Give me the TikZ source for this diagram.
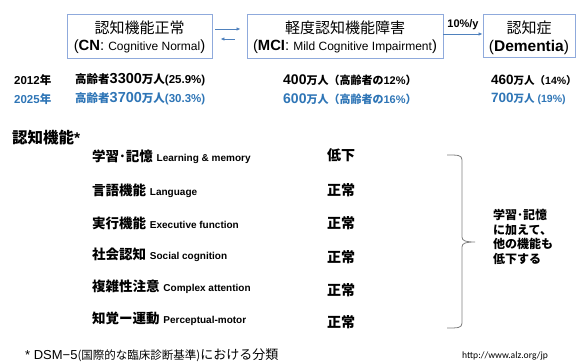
\documentclass[tikz,border=0pt]{standalone}
\usepackage{fontspec}
\setmainfont{Liberation Sans}
\newfontfamily\jp{Noto Sans CJK JP}
\newfontfamily\urlfont{Carlito}
\usetikzlibrary{arrows.meta}
\definecolor{boxc}{HTML}{8FAADC}
\definecolor{arrc}{HTML}{4F81BD}
\definecolor{bluet}{HTML}{2E75B6}
\definecolor{brc}{HTML}{7F7F7F}
\newcommand{\J}[1]{{\jp #1}}
\newcommand{\fs}[1]{\fontsize{#1}{#1}\selectfont}
\begin{document}
\begin{tikzpicture}[x=1pt,y=-1pt,
  box/.style={draw=boxc,line width=0.9pt},
  lbl/.style={inner sep=0pt,anchor=center},
  lt/.style={inner sep=0pt,anchor=west},
  arr/.style={draw=arrc,line width=0.9pt,-{Latex[length=4pt,width=3.5pt]}},
  br/.style={draw=brc,line width=0.8pt}]
\useasboundingbox (0,0) rectangle (576,363);
% boxes
\node[box,minimum width=145pt,minimum height=44pt,inner sep=0pt] (b1) at (139.5,36) {};
\node[box,minimum width=196pt,minimum height=44pt,inner sep=0pt] (b2) at (345,36) {};
\node[box,minimum width=92pt,minimum height=43pt,inner sep=0pt] (b3) at (529,35.5) {};
\node[lbl] (b1a) at (139.5,28) {\fs{15}\J{認知機能正常}};
\node[lbl] (b1b) at (139.5,47) {\fs{14.8}(\textbf{CN}: {\fs{12}Cognitive Normal})};
\node[lbl] (b2a) at (345,28) {\fs{15}\J{軽度認知機能障害}};
\node[lbl] (b2b) at (345,47) {\fs{14.8}(\textbf{MCI}: {\fs{12}Mild Cognitive Impairment})};
\node[lbl] (b3a) at (529,28) {\fs{15}\J{認知症}};
\node[lbl] (b3b) at (529,47) {\fs{15.5}(\textbf{Dementia})};
% arrows
\draw[arr] ([xshift=3pt,yshift=7pt]b1.east) -- ([xshift=-6pt,yshift=7pt]b2.west);
\draw[arr] ([xshift=-12pt,yshift=-3pt]b2.west) -- ([xshift=8pt,yshift=-3pt]b1.east);
\draw[arr] ([yshift=2pt]b2.east) -- ([yshift=1.5pt]b3.west);
\node[lbl] (rate) at (463,25) {\fs{11}\textbf{10\%/y}};
% rows
\node[lt] (y12) at (14,80) {\fs{11.5}\bfseries 2012\J{年}};
\node[lt] (c12) at (75,80) {\bfseries\fs{11.5}\J{高齢者}{\fs{14.5}3300}\J{万人}(25.9\%)};
\node[lt] (m12) at (283,80) {\bfseries{\fs{14}400}\fs{11}\J{万人（高齢者の}12\%\J{）}};
\node[lt] (d12) at (491,80) {\bfseries{\fs{13.5}460}\fs{10.5}\J{万人（}14\%\J{）}};
\begin{scope}[every node/.append style={text=bluet}]
\node[lt] (y25) at (14,99) {\fs{11.5}\bfseries 2025\J{年}};
\node[lt] (c25) at (75,99) {\bfseries\fs{11.5}\J{高齢者}{\fs{14.5}3700}\J{万人}(30.3\%)};
\node[lt] (m25) at (283,99) {\bfseries{\fs{14}600}\fs{11}\J{万人（高齢者の}16\%\J{）}};
\node[lt] (d25) at (491,99) {\bfseries{\fs{13.5}700}\fs{10.5}\J{万人} (19\%)};
\end{scope}
% cognitive functions
\node[lt] (cf) at (12,138) {\bfseries\fs{15.5}\J{認知機能}*};
\node[lt] (i1) at (92,157) {\bfseries\fs{13.5}\J{学習･記憶} {\fs{10}Learning \& memory}};
\node[lt] (i2) at (92,191) {\bfseries\fs{13.5}\J{言語機能} {\fs{10}Language}};
\node[lt] (i3) at (92,223) {\bfseries\fs{13.5}\J{実行機能} {\fs{10}Executive function}};
\node[lt] (i4) at (92,255) {\bfseries\fs{13.5}\J{社会認知} {\fs{10}Social cognition}};
\node[lt] (i5) at (92,287) {\bfseries\fs{13.5}\J{複雑性注意} {\fs{10}Complex attention}};
\node[lt] (i6) at (92,319) {\bfseries\fs{13.5}\J{知覚ー運動} {\fs{10}Perceptual-motor}};
\node[lt] (s1) at (327,155) {\bfseries\fs{14}\J{低下}};
\node[lt] (s2) at (327,190) {\bfseries\fs{14}\J{正常}};
\node[lt] (s3) at (327,223) {\bfseries\fs{14}\J{正常}};
\node[lt] (s4) at (327,257) {\bfseries\fs{14}\J{正常}};
\node[lt] (s5) at (327,290) {\bfseries\fs{14}\J{正常}};
\node[lt] (s6) at (327,322) {\bfseries\fs{14}\J{正常}};
% bracket
\draw[br] (447,155) .. controls (458,155) and (462,155) .. (462,160) -- (462,237)
  .. controls (462,241) and (466,242) .. (475,242)
  .. controls (466,242) and (462,243) .. (462,247) -- (462,323)
  .. controls (462,328) and (458,328) .. (447,328);
\node[lt,align=left,font=\bfseries\fontsize{12}{14.5}\selectfont\jp] (note) at (493,237) {学習･記憶\\に加えて、\\他の機能も\\低下する};
% footer
\node[lt] (url) at (462,356) {\urlfont\fs{9.6}http://www.alz.org/jp};
\node[lt] (fn) at (25,355) {\fs{13}* DSM−5{\fs{11.5}\J{(国際的な臨床診断基準)}}\J{における分類}};
\end{tikzpicture}
\end{document}
